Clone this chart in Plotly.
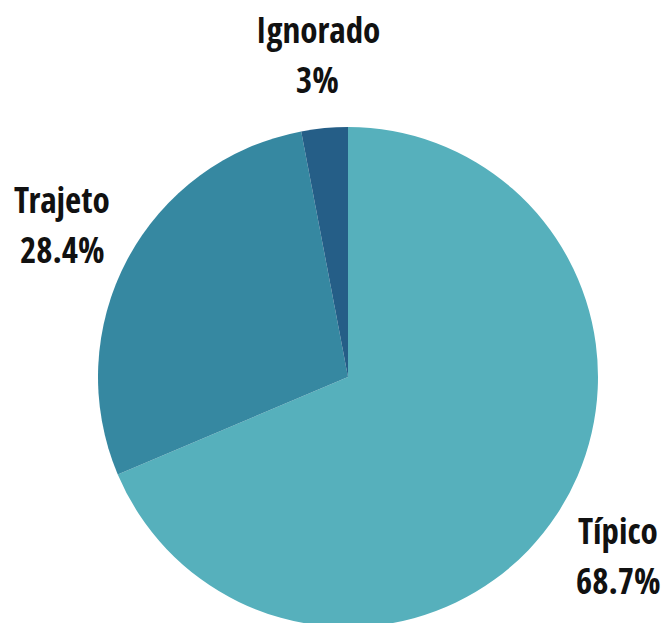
import math
import plotly.graph_objects as go

labels = ["Típico", "Trajeto", "Ignorado"]
values = [68.7, 28.4, 3]
value_text = ["68.7%", "28.4%", "3%"]
colors = ["#56B0BC", "#3688A1", "#255E87"]

W, H = 664, 630
cx, cy, R = 348, 377, 250  # pie centre and radius in pixels
label_r = 324
font_family = "Open Sans Condensed, Roboto Condensed, sans-serif"

fig = go.Figure(go.Pie(
    labels=labels,
    values=values,
    sort=False,
    direction="clockwise",
    rotation=0,
    marker=dict(colors=colors, line=dict(width=0)),
    textinfo="none",
    hoverinfo="label+value",
    showlegend=False,
    domain=dict(x=[(cx - R) / W, (cx + R) / W], y=[max(0, 1 - (cy + R) / H), 1 - (cy - R) / H]),
))

total = sum(values)
cum = 0.0
annotations = []
for lab, v, vt in zip(labels, values, value_text):
    mid = (cum + v / 2) / total * 2 * math.pi
    cum += v
    px = cx + label_r * math.sin(mid)
    py = cy - label_r * math.cos(mid)
    xp, yp = px / W, 1 - py / H
    for txt, shift in ((lab, 25), (vt, -25)):
        annotations.append(dict(
            x=xp, y=yp, xref="paper", yref="paper", text=f"<b>{txt}</b>",
            showarrow=False, xanchor="center", yanchor="middle", yshift=shift,
            font=dict(family=font_family, size=35, color="#111111"),
        ))

fig.update_layout(
    width=W, height=H,
    margin=dict(l=0, r=0, t=0, b=0),
    paper_bgcolor="white", plot_bgcolor="white",
    annotations=annotations,
)

fig.write_html(
    "out.html",
    config={"displayModeBar": False},
    post_script="document.body.style.margin='0';document.body.style.overflow='hidden';",
)
